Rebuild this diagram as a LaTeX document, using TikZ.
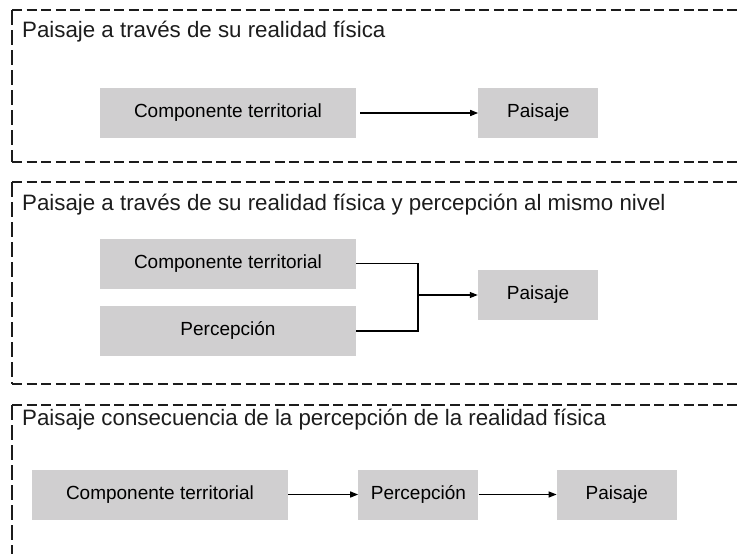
\documentclass[tikz,border=0pt]{standalone}
\usepackage{fontspec}
\setmainfont{Liberation Sans}
\usepackage{xcolor}
\usetikzlibrary{positioning, arrows.meta}
\definecolor{boxgray}{RGB}{208,207,208}
\definecolor{inkgray}{RGB}{28,28,28}

\begin{document}
\begin{tikzpicture}[
    x=1pt, y=-1pt,
    node distance=17pt and 122pt,
    comp/.style={rectangle, fill=boxgray, minimum width=256pt, minimum height=50pt,
                 inner sep=0pt, font=\fontsize{19}{22}\selectfont},
    small/.style={comp, minimum width=120pt},
    title/.style={anchor=base west, inner sep=0pt, text=inkgray,
                  font=\fontsize{22.3}{26}\selectfont},
    frameh/.style={inkgray, line width=1.2pt, dash pattern=on 10pt off 4.6pt},
    framev/.style={inkgray, line width=1.2pt, dash pattern=on 15pt off 5pt},
    arr/.style={-{Triangle[length=8pt, width=6pt]}, black, line width=1.2pt},
    link/.style={black, line width=1.2pt},
]
    \useasboundingbox (0,0) rectangle (740,554);

    % dashed frames (open on the right)
    \draw[frameh] (12,10) -- (740,10) (12,162) -- (740,162);
    \draw[framev] (12,10) -- (12,162);
    \draw[frameh] (12,182) -- (740,182) (12,384) -- (740,384);
    \draw[framev] (12,182) -- (12,384);
    \draw[frameh] (12,405) -- (740,405);
    \draw[framev] (12,405) -- (12,554);

    % first panel
    \node[title] (head1) at (22,37) {Paisaje a través de su realidad física};
    \node[comp] (terr1) at (228,113) {Componente territorial};
    \node[small, right=of terr1] (pais1) {Paisaje};
    \draw[arr, shorten <=4pt] (terr1) -- (pais1);

    % second panel
    \node[title] (head2) at (22,210)
        {Paisaje a través de su realidad física y percepción al mismo nivel};
    \node[comp] (terr2) at (228,263.5) {Componente territorial};
    \node[comp, below=of terr2] (perc2) {Percepción};
    \node[small] (pais2) at (538,295) {Paisaje};
    \coordinate (fork2) at (418,295);
    \draw[link] (terr2.east) -| (fork2) |- (perc2.east);
    \draw[arr] (fork2) -- (pais2);

    % third panel
    \node[title] (head3) at (22,425)
        {Paisaje consecuencia de la percepción de la realidad física};
    \node[comp] (terr3) at (160,494.5) {Componente territorial};
    \node[small, right=70pt of terr3] (perc3) {Percepción};
    \node[small, right=78pt of perc3] (pais3) {Paisaje};
    \draw[arr] (terr3) -- (perc3);
    \draw[arr] (perc3) -- (pais3);
\end{tikzpicture}
\end{document}
